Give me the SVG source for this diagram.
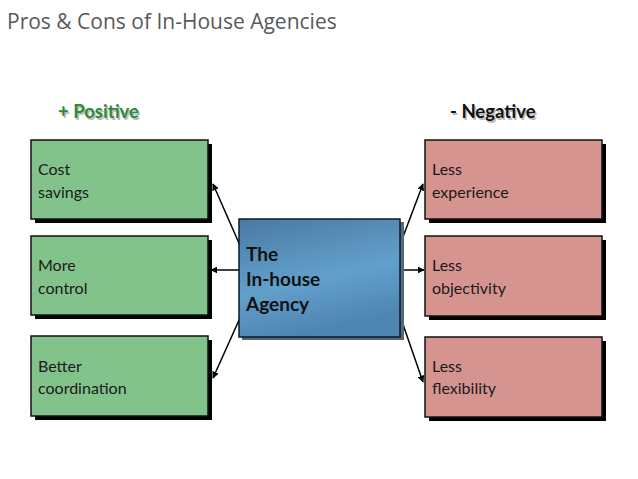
<svg xmlns="http://www.w3.org/2000/svg" width="638" height="479" viewBox="0 0 638 479">
<defs>
<style>
.title{font-family:"Open Sans","Liberation Sans",sans-serif;font-size:21px;fill:#595959}
.hdr{font-family:Lato,"Liberation Sans",sans-serif;font-size:18.5px;font-weight:bold}
.lbl{font-family:Lato,"Liberation Sans",sans-serif;font-size:16px;fill:#1a1a1a}
.ctr{font-family:Lato,"Liberation Sans",sans-serif;font-size:19px;font-weight:bold;fill:#111}
.shadow{fill:#000}
.green{fill:#82c38c;stroke:#111;stroke-width:1.5}
.red{fill:#d69490;stroke:#111;stroke-width:1.5}
.conn{stroke:#000;stroke-width:1.5;fill:none;marker-end:url(#ah)}
</style>
<marker id="ah" viewBox="0 0 10 10" refX="9" refY="5" markerWidth="7" markerHeight="7" orient="auto" markerUnits="userSpaceOnUse">
<path d="M0,0 L10,5 L0,10 z" fill="#000"/>
</marker>
<linearGradient id="blue" x1="0" y1="0" x2="0.3" y2="1">
<stop offset="0" stop-color="#4a7aa3"/>
<stop offset="0.6" stop-color="#62a0cc"/>
<stop offset="1" stop-color="#4f85b1"/>
</linearGradient>
</defs>
<rect width="638" height="479" fill="#fff"/>
<text class="title" x="7" y="29">Pros &amp; Cons of In-House Agencies</text>
<text class="hdr" x="58" y="118" fill="#bbb" transform="translate(1.5,1.5)">+ Positive</text>
<text class="hdr" x="58" y="118" fill="#2e8b36">+ Positive</text>
<text class="hdr" x="450" y="118" fill="#bbb" transform="translate(1.5,1.5)">- Negative</text>
<text class="hdr" x="450" y="118" fill="#111">- Negative</text>
<g id="connectors">
<line class="conn" x1="242" y1="250" x2="213" y2="184"/>
<line class="conn" x1="240" y1="270" x2="211" y2="270"/>
<line class="conn" x1="240" y1="318" x2="213" y2="378"/>
<line class="conn" x1="398" y1="250" x2="423" y2="184"/>
<line class="conn" x1="400" y1="270" x2="424" y2="270"/>
<line class="conn" x1="398" y1="310" x2="423" y2="382"/>
</g>
<g id="cost">
<rect class="shadow" x="35" y="144" width="177" height="79"/>
<rect class="green" x="31" y="140" width="177" height="79"/>
<text class="lbl" x="38" y="175">Cost</text>
<text class="lbl" x="38" y="198">savings</text>
</g>
<g id="control">
<rect class="shadow" x="35" y="240" width="177" height="79"/>
<rect class="green" x="31" y="236" width="177" height="79"/>
<text class="lbl" x="38" y="271">More</text>
<text class="lbl" x="38" y="294">control</text>
</g>
<g id="coordination">
<rect class="shadow" x="35" y="340" width="177" height="80"/>
<rect class="green" x="31" y="336" width="177" height="80"/>
<text class="lbl" x="38" y="372">Better</text>
<text class="lbl" x="38" y="394">coordination</text>
</g>
<g id="experience">
<rect class="shadow" x="429" y="144" width="177" height="79"/>
<rect class="red" x="425" y="140" width="177" height="79"/>
<text class="lbl" x="432" y="175">Less</text>
<text class="lbl" x="432" y="198">experience</text>
</g>
<g id="objectivity">
<rect class="shadow" x="429" y="240" width="177" height="80"/>
<rect class="red" x="425" y="236" width="177" height="80"/>
<text class="lbl" x="432" y="271">Less</text>
<text class="lbl" x="432" y="294">objectivity</text>
</g>
<g id="flexibility">
<rect class="shadow" x="429" y="341" width="177" height="80"/>
<rect class="red" x="425" y="337" width="177" height="80"/>
<text class="lbl" x="432" y="372">Less</text>
<text class="lbl" x="432" y="394">flexibility</text>
</g>
<g id="agency">
<rect x="242" y="222" width="162" height="118" fill="#55687a"/>
<rect x="239" y="219" width="161" height="118" fill="url(#blue)" stroke="#0d1a2a" stroke-width="1.5"/>
<text class="ctr" x="246" y="261">The</text>
<text class="ctr" x="246" y="286">In-house</text>
<text class="ctr" x="246" y="311">Agency</text>
</g>
</svg>
